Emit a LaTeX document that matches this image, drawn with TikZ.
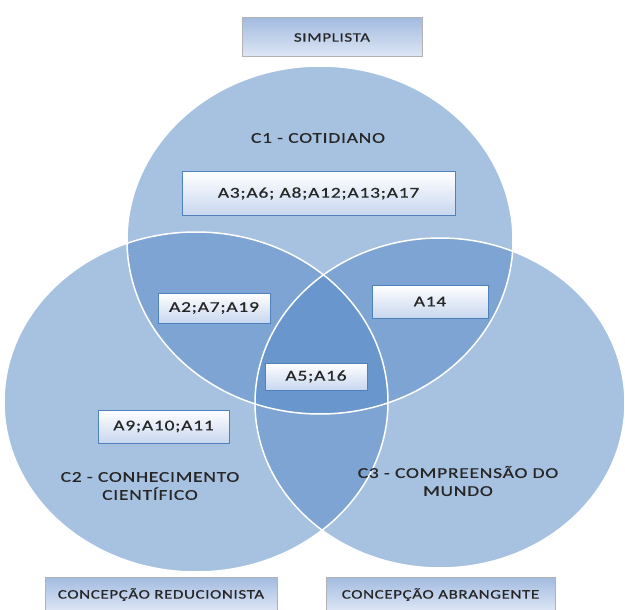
\documentclass[tikz,border=0pt]{standalone}
\usepackage{fontspec}
\newfontfamily\vfont[FakeStretch=1.3,FakeBold=0.6,LetterSpace=5]{Carlito}
\definecolor{vblue}{RGB}{87,137,198}
\definecolor{vline}{RGB}{79,129,189}
\definecolor{vtop}{RGB}{163,187,224}
\definecolor{vbot}{RGB}{222,231,245}
\definecolor{vlow}{RGB}{200,215,239}
\definecolor{vtext}{RGB}{38,38,38}
\begin{document}
\begin{tikzpicture}[x=1pt,y=-1pt,
        set/.style={fill=vblue,fill opacity=.52},
        rim/.style={draw=white,line width=1.5pt},
        lbl/.style={font=\vfont\fontsize{15}{18}\selectfont,text=vtext,align=center},
        grp/.style={lbl,draw=vline,line width=1pt,top color=white,bottom color=vlow,
            inner sep=0pt,minimum height=30pt},
        head/.style={lbl,font=\vfont\fontsize{13}{16}\selectfont,draw=black!30,line width=1pt,
            top color=vtop,bottom color=vbot,inner sep=0pt,minimum height=39pt}]
            \useasboundingbox (0,0) rectangle (625,610);

            \fill[set] (320,240) ellipse [x radius=193,y radius=174];
            \fill[set] (196,402) ellipse [x radius=192,y radius=170];
            \fill[set] (440,403) ellipse [x radius=185,y radius=165];
            \draw[rim] (320,240) ellipse [x radius=193,y radius=174];
            \draw[rim] (196,402) ellipse [x radius=192,y radius=170];
            \draw[rim] (440,403) ellipse [x radius=185,y radius=165];

            \node[head,minimum width=180pt] (simp) at (332,37.5) {SIMPLISTA};
            \node[head,minimum width=232pt,minimum height=35pt] (redu) at (161,594.5) {CONCEPÇÃO REDUCIONISTA};
            \node[head,minimum width=229pt,minimum height=35pt] (abra) at (440.5,594.5) {CONCEPÇÃO ABRANGENTE};

            \node[lbl] (c1) at (318,138) {C1 - COTIDIANO};
            \node[lbl] (c2) at (150,486) {C2 - CONHECIMENTO\\CIENTÍFICO};
            \node[lbl] (c3) at (458,481) {C3 - COMPREENSÃO DO\\MUNDO};

            \node[grp,minimum width=273pt,minimum height=43pt] (a3) at (318.5,193.5) {A3;A6; A8;A12;A13;A17};
            \node[grp,minimum width=112pt] (a2) at (214,308) {A2;A7;A19};
            \node[grp,minimum width=116pt,minimum height=33pt] (a14) at (430,301.5) {A14};
            \node[grp,minimum width=102pt,minimum height=27pt] (a5) at (316,376.5) {A5;A16};
            \node[grp,minimum width=131pt,minimum height=33pt] (a9) at (163.5,426.5) {A9;A10;A11};
        \end{tikzpicture}
\end{document}
